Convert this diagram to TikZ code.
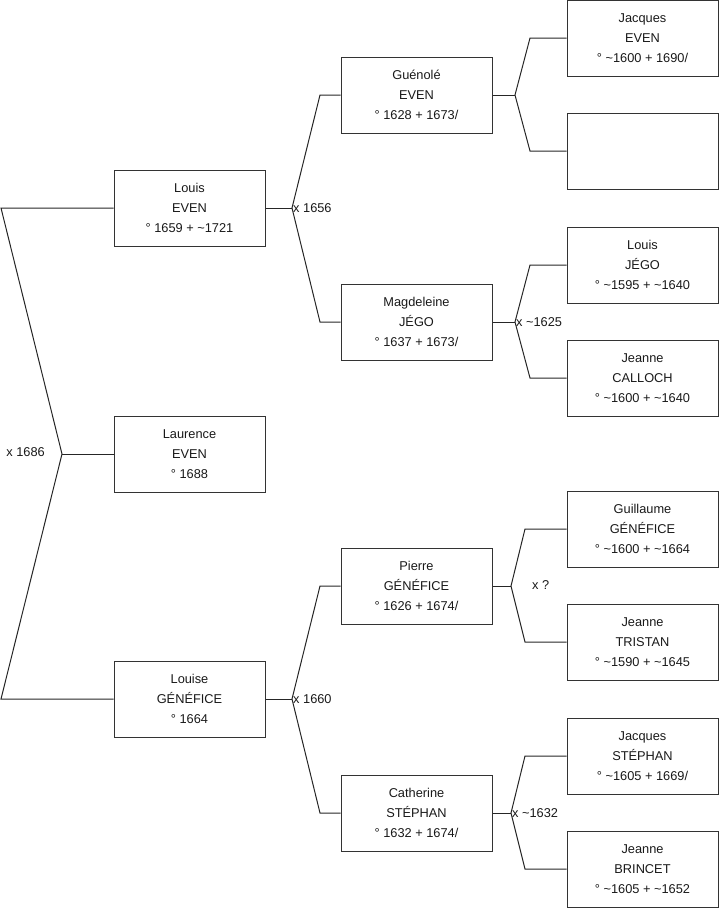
\documentclass[tikz,border=0pt]{standalone}
\usepackage{fontspec}
\setmainfont{Liberation Sans}
\usetikzlibrary{calc}
\begin{document}
\begin{tikzpicture}[x=1pt,y=-1pt,
  person/.style={draw=black!80, line width=1pt, minimum width=151pt, minimum height=76pt,
    inner sep=0pt, align=center, font=\fontsize{12.8}{19.7}\selectfont, text=black!90},
  conn/.style={line width=1pt, black!85},
  marr/.style={font=\fontsize{12.8}{14}\selectfont, inner sep=1pt, text=black!90}]
\useasboundingbox (0,0) rectangle (719,908);
% column 1
\node[person] (louis) at (189.5,208) {Louis\\EVEN\\° 1659 + \textasciitilde1721};
\node[person] (laurence) at (189.5,454) {Laurence\\EVEN\\° 1688};
\node[person] (louise) at (189.5,699) {Louise\\GÉNÉFICE\\° 1664};
% column 2
\node[person] (guen) at (416.5,95) {Guénolé\\EVEN\\° 1628 + 1673/};
\node[person] (magd) at (416.5,322) {Magdeleine\\JÉGO\\° 1637 + 1673/};
\node[person] (pierre) at (416.5,586) {Pierre\\GÉNÉFICE\\° 1626 + 1674/};
\node[person] (cath) at (416.5,813) {Catherine\\STÉPHAN\\° 1632 + 1674/};
% column 3
\node[person] (jacq) at (642.5,38) {Jacques\\EVEN\\° \textasciitilde1600 + 1690/};
\node[person] (empty) at (642.5,151) {};
\node[person] (louisj) at (642.5,265) {Louis\\JÉGO\\° \textasciitilde1595 + \textasciitilde1640};
\node[person] (jeannec) at (642.5,378) {Jeanne\\CALLOCH\\° \textasciitilde1600 + \textasciitilde1640};
\node[person] (guil) at (642.5,529) {Guillaume\\GÉNÉFICE\\° \textasciitilde1600 + \textasciitilde1664};
\node[person] (jeannet) at (642.5,642) {Jeanne\\TRISTAN\\° \textasciitilde1590 + \textasciitilde1645};
\node[person] (jacqs) at (642.5,756) {Jacques\\STÉPHAN\\° \textasciitilde1605 + 1669/};
\node[person] (jeanneb) at (642.5,869) {Jeanne\\BRINCET\\° \textasciitilde1605 + \textasciitilde1652};
% fork points
\coordinate (f0) at (62,454);
\coordinate (f1) at (292,208);
\coordinate (f2) at (292,699);
\coordinate (f3) at (515,95);
\coordinate (f4) at (515,322);
\coordinate (f5) at (511,586);
\coordinate (f6) at (511,813);
% left fork
\draw[conn] (laurence.west) -- (f0);
\draw[conn] (louis.west) -- (1,208) -- (f0) -- (1,699) -- (louise.west);
\node[marr, anchor=east] (m0) at (46,452) {x 1686};
% column 1 -> 2
\draw[conn] (louis.east) -- (f1);
\draw[conn] (guen.west) -- (320,95) -- (f1) -- (320,322) -- (magd.west);
\node[marr, anchor=west] (m1) at (f1) {x 1656};
\draw[conn] (louise.east) -- (f2);
\draw[conn] (pierre.west) -- (320,586) -- (f2) -- (320,813) -- (cath.west);
\node[marr, anchor=west] (m2) at (f2) {x 1660};
% column 2 -> 3
\draw[conn] (guen.east) -- (f3);
\draw[conn] (jacq.west) -- (530,38) -- (f3) -- (530,151) -- (empty.west);
\draw[conn] (magd.east) -- (f4);
\draw[conn] (louisj.west) -- (530,265) -- (f4) -- (530,378) -- (jeannec.west);
\node[marr, anchor=west] (m4) at (f4) {x \textasciitilde1625};
\draw[conn] (pierre.east) -- (f5);
\draw[conn] (guil.west) -- (525,529) -- (f5) -- (525,642) -- (jeannet.west);
\node[marr, anchor=west] (m5) at (531,585) {x ?};
\draw[conn] (cath.east) -- (f6);
\draw[conn] (jacqs.west) -- (525,756) -- (f6) -- (525,869) -- (jeanneb.west);
\node[marr, anchor=west] (m6) at (f6) {x \textasciitilde1632};
\end{tikzpicture}
\end{document}
